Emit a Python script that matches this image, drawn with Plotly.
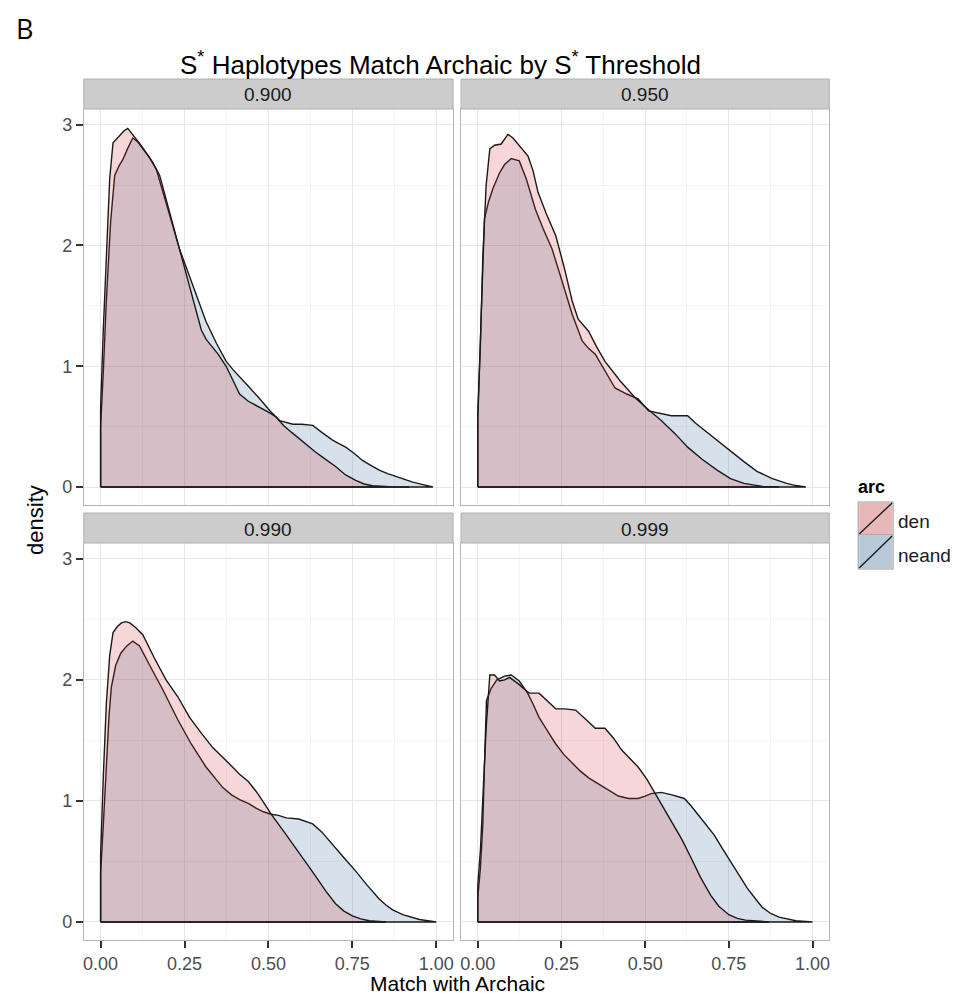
import plotly.graph_objects as go

# ---------------- data ----------------
panels = ["0.900", "0.950", "0.990", "0.999"]
groups = ["den", "neand"]

# threshold 0.900
x_900_den = [0, 0.008, 0.017, 0.027, 0.037, 0.047, 0.057, 0.07, 0.081, 0.093, 0.106, 0.12, 0.136, 0.155, 0.176, 0.205, 0.235, 0.255, 0.275, 0.29, 0.30, 0.315, 0.33, 0.35, 0.374, 0.395, 0.414, 0.44, 0.474, 0.50, 0.523, 0.545, 0.57, 0.595, 0.62, 0.64, 0.66, 0.68, 0.70, 0.73, 0.76, 0.785, 0.81, 0.86, 0.92]
y_900_den = [0.66, 1.3, 1.87, 2.55, 2.85, 2.88, 2.91, 2.95, 2.97, 2.93, 2.88, 2.83, 2.77, 2.69, 2.58, 2.28, 1.95, 1.75, 1.55, 1.40, 1.30, 1.22, 1.17, 1.10, 1.00, 0.88, 0.77, 0.71, 0.66, 0.62, 0.58, 0.51, 0.45, 0.39, 0.33, 0.29, 0.25, 0.21, 0.17, 0.10, 0.055, 0.025, 0.01, 0.003, 0]
x_900_neand = [0, 0.008, 0.017, 0.03, 0.042, 0.055, 0.066, 0.08, 0.096, 0.11, 0.126, 0.145, 0.166, 0.20, 0.235, 0.255, 0.275, 0.295, 0.314, 0.345, 0.374, 0.395, 0.414, 0.445, 0.474, 0.505, 0.533, 0.555, 0.573, 0.60, 0.632, 0.66, 0.69, 0.71, 0.73, 0.755, 0.78, 0.805, 0.83, 0.855, 0.88, 0.905, 0.93, 0.96, 0.99]
y_900_neand = [0.5, 0.95, 1.54, 2.2, 2.58, 2.66, 2.71, 2.80, 2.89, 2.86, 2.80, 2.73, 2.63, 2.30, 1.97, 1.82, 1.67, 1.52, 1.37, 1.19, 1.04, 0.97, 0.91, 0.82, 0.73, 0.63, 0.55, 0.53, 0.52, 0.52, 0.51, 0.45, 0.39, 0.36, 0.33, 0.28, 0.22, 0.18, 0.14, 0.11, 0.085, 0.06, 0.04, 0.02, 0]

# threshold 0.950
x_950_den = [0, 0.008, 0.015, 0.025, 0.036, 0.05, 0.07, 0.08, 0.09, 0.105, 0.124, 0.15, 0.165, 0.18, 0.205, 0.233, 0.258, 0.282, 0.30, 0.315, 0.331, 0.355, 0.38, 0.425, 0.47, 0.51, 0.548, 0.59, 0.627, 0.67, 0.715, 0.755, 0.795, 0.85, 0.90]
y_950_den = [0.6, 1.2, 1.9, 2.5, 2.80, 2.83, 2.84, 2.88, 2.92, 2.89, 2.83, 2.74, 2.62, 2.44, 2.26, 2.08, 1.82, 1.54, 1.39, 1.34, 1.29, 1.16, 1.04, 0.88, 0.74, 0.64, 0.55, 0.44, 0.33, 0.23, 0.14, 0.07, 0.03, 0.005, 0]
x_950_neand = [0, 0.01, 0.02, 0.032, 0.045, 0.065, 0.08, 0.10, 0.124, 0.145, 0.172, 0.195, 0.222, 0.25, 0.282, 0.312, 0.33, 0.351, 0.38, 0.41, 0.445, 0.479, 0.51, 0.545, 0.578, 0.60, 0.627, 0.65, 0.677, 0.715, 0.755, 0.795, 0.834, 0.88, 0.923, 0.95, 0.98]
y_950_neand = [0.55, 1.4, 2.22, 2.36, 2.47, 2.60, 2.67, 2.72, 2.70, 2.55, 2.30, 2.14, 1.97, 1.72, 1.43, 1.21, 1.15, 1.10, 0.96, 0.82, 0.77, 0.73, 0.63, 0.61, 0.59, 0.59, 0.59, 0.53, 0.47, 0.39, 0.30, 0.21, 0.13, 0.07, 0.03, 0.012, 0]

# threshold 0.990
x_990_den = [0, 0.008, 0.017, 0.027, 0.037, 0.05, 0.062, 0.075, 0.087, 0.105, 0.126, 0.16, 0.195, 0.23, 0.265, 0.30, 0.334, 0.375, 0.414, 0.44, 0.463, 0.485, 0.508, 0.545, 0.582, 0.63, 0.672, 0.70, 0.725, 0.75, 0.775, 0.80, 0.85]
y_990_den = [0.55, 1.2, 1.8, 2.2, 2.39, 2.44, 2.47, 2.48, 2.47, 2.43, 2.37, 2.18, 2.00, 1.86, 1.69, 1.56, 1.44, 1.33, 1.22, 1.16, 1.08, 0.99, 0.89, 0.75, 0.61, 0.42, 0.25, 0.15, 0.09, 0.05, 0.025, 0.01, 0]
x_990_neand = [0, 0.008, 0.017, 0.025, 0.032, 0.045, 0.06, 0.078, 0.096, 0.116, 0.15, 0.185, 0.23, 0.27, 0.314, 0.34, 0.364, 0.39, 0.414, 0.44, 0.463, 0.485, 0.508, 0.53, 0.553, 0.59, 0.632, 0.66, 0.69, 0.725, 0.76, 0.795, 0.83, 0.85, 0.87, 0.90, 0.95, 1.0]
y_990_neand = [0.4, 0.8, 1.3, 1.7, 1.94, 2.12, 2.22, 2.28, 2.32, 2.28, 2.10, 1.92, 1.67, 1.47, 1.28, 1.19, 1.11, 1.05, 1.01, 0.98, 0.94, 0.91, 0.89, 0.88, 0.86, 0.85, 0.81, 0.74, 0.64, 0.53, 0.42, 0.30, 0.19, 0.14, 0.10, 0.06, 0.02, 0]

# threshold 0.999
x_999_den = [0, 0.008, 0.015, 0.025, 0.036, 0.05, 0.065, 0.08, 0.095, 0.11, 0.124, 0.14, 0.154, 0.183, 0.21, 0.233, 0.262, 0.292, 0.32, 0.351, 0.38, 0.405, 0.43, 0.455, 0.479, 0.505, 0.528, 0.555, 0.578, 0.61, 0.637, 0.665, 0.696, 0.72, 0.75, 0.775, 0.80, 0.87]
y_999_den = [0.3, 0.6, 1.0, 1.6, 2.04, 2.04, 1.99, 2.0, 2.02, 1.99, 1.96, 1.92, 1.89, 1.89, 1.82, 1.76, 1.76, 1.75, 1.68, 1.60, 1.60, 1.52, 1.42, 1.35, 1.28, 1.18, 1.07, 0.95, 0.83, 0.68, 0.53, 0.37, 0.22, 0.13, 0.06, 0.03, 0.015, 0]
x_999_neand = [0, 0.008, 0.015, 0.02, 0.026, 0.04, 0.057, 0.08, 0.10, 0.124, 0.149, 0.165, 0.183, 0.21, 0.233, 0.258, 0.282, 0.305, 0.331, 0.355, 0.38, 0.40, 0.42, 0.45, 0.479, 0.50, 0.518, 0.548, 0.58, 0.617, 0.637, 0.657, 0.68, 0.706, 0.73, 0.755, 0.78, 0.805, 0.83, 0.85, 0.875, 0.90, 0.95, 1.0]
y_999_neand = [0.2, 0.45, 0.8, 1.3, 1.83, 1.93, 2.00, 2.03, 2.04, 1.99, 1.89, 1.80, 1.69, 1.57, 1.47, 1.38, 1.31, 1.25, 1.19, 1.15, 1.11, 1.07, 1.04, 1.02, 1.02, 1.04, 1.06, 1.07, 1.05, 1.02, 0.96, 0.89, 0.81, 0.72, 0.61, 0.50, 0.39, 0.28, 0.19, 0.12, 0.07, 0.04, 0.01, 0]

series = {
    "0.900": {"den": (x_900_den, y_900_den), "neand": (x_900_neand, y_900_neand)},
    "0.950": {"den": (x_950_den, y_950_den), "neand": (x_950_neand, y_950_neand)},
    "0.990": {"den": (x_990_den, y_990_den), "neand": (x_990_neand, y_990_neand)},
    "0.999": {"den": (x_999_den, y_999_den), "neand": (x_999_neand, y_999_neand)},
}

x_tickvals = [0, 0.25, 0.5, 0.75, 1.0]
x_ticktext = ["0.00", "0.25", "0.50", "0.75", "1.00"]
y_tickvals = [0, 1, 2, 3]
y_ticktext = ["0", "1", "2", "3"]

# ---------------- styling ----------------
W, H = 957, 997
FONT = "Liberation Sans, Arial, Helvetica, sans-serif"
fills = {"den": "rgba(210,50,50,0.2)", "neand": "rgba(50,105,160,0.2)"}
draw_order = ["neand", "den"]


def fx(px):
    return px / W


def fy(py):
    return 1 - py / H


# panel pixel boxes: (left, right, top, bottom)
boxes = [(83, 453, 109, 505), (461, 830, 109, 505), (83, 453, 543, 940), (461, 830, 543, 940)]
strips = [(79, 109), (79, 109), (513, 543), (513, 543)]

fig = go.Figure()

for i, p in enumerate(panels):
    ax = "" if i == 0 else str(i + 1)
    for g in draw_order:
        xs, ys = series[p][g]
        px = [xs[0]] + list(xs) + [xs[-1], xs[0]]
        py = [0] + list(ys) + [0, 0]
        fig.add_trace(go.Scatter(
            x=px, y=py, mode="lines", fill="toself", fillcolor=fills[g],
            line=dict(color="#1a1a1a", width=1.4), name=g, showlegend=False,
            xaxis="x" + ax, yaxis="y" + ax, hoverinfo="skip"))

    l, r, t, b = boxes[i]
    bottom_row = i >= 2
    left_col = i % 2 == 0
    xa = dict(
        domain=[fx(l), fx(r)], range=[-0.05, 1.05], anchor="y" + ax,
        tickvals=x_tickvals, ticktext=x_ticktext,
        showticklabels=bottom_row, ticks="outside" if bottom_row else "",
        ticklen=7, tickwidth=1.5, tickcolor="#333333",
        tickfont=dict(family=FONT, size=18, color="#4d4d4d"),
        showgrid=True, gridcolor="#e6e6e6", gridwidth=1,
        minor=dict(tickvals=[0.125, 0.375, 0.625, 0.875], showgrid=True, gridcolor="#f3f3f3", gridwidth=1),
        zeroline=False, showline=True, mirror=True, linecolor="#b5b5b5", linewidth=1,
        fixedrange=True,
    )
    ya = dict(
        domain=[fy(b), fy(t)], range=[-0.149, 3.13], anchor="x" + ax,
        tickvals=y_tickvals, ticktext=y_ticktext,
        showticklabels=left_col, ticks="outside" if left_col else "",
        ticklen=7, tickwidth=1.5, tickcolor="#333333",
        tickfont=dict(family=FONT, size=18, color="#4d4d4d"),
        showgrid=True, gridcolor="#e6e6e6", gridwidth=1,
        minor=dict(tickvals=[0.5, 1.5, 2.5], showgrid=True, gridcolor="#f3f3f3", gridwidth=1),
        zeroline=False, showline=True, mirror=True, linecolor="#b5b5b5", linewidth=1,
        fixedrange=True,
    )
    fig.layout["xaxis" + ax] = xa
    fig.layout["yaxis" + ax] = ya

shapes = []
annotations = []
for i, p in enumerate(panels):
    l, r, _, _ = boxes[i]
    st, sb = strips[i]
    shapes.append(dict(type="rect", xref="paper", yref="paper", x0=fx(l), x1=fx(r), y0=fy(sb), y1=fy(st),
                       fillcolor="#cccccc", line=dict(color="#b0b0b0", width=1), layer="above"))
    annotations.append(dict(text=p, xref="paper", yref="paper", x=fx((l + r) / 2), y=fy((st + sb) / 2 + 1),
                            showarrow=False, xanchor="center", yanchor="middle",
                            font=dict(family=FONT, size=19, color="#1a1a1a")))

# title, panel letter, axis titles
annotations.append(dict(text="S<sup>*</sup> Haplotypes Match Archaic by S<sup>*</sup> Threshold",
                        xref="paper", yref="paper", x=fx(440), y=fy(63), showarrow=False,
                        xanchor="center", yanchor="middle", font=dict(family=FONT, size=26, color="#000000")))
annotations.append(dict(text="B", xref="paper", yref="paper", x=fx(13), y=fy(28), showarrow=False,
                        xanchor="left", yanchor="middle", font=dict(family="Open Sans, sans-serif", size=27, color="#000000")))
annotations.append(dict(text="Match with Archaic", xref="paper", yref="paper", x=fx(457), y=fy(983), showarrow=False,
                        xanchor="center", yanchor="middle", font=dict(family=FONT, size=21, color="#000000")))
annotations.append(dict(text="density", xref="paper", yref="paper", x=fx(34), y=fy(520), showarrow=False,
                        textangle=-90, xanchor="center", yanchor="middle", font=dict(family=FONT, size=22, color="#000000")))

# legend (drawn by hand, ggplot style)
annotations.append(dict(text="<b>arc</b>", xref="paper", yref="paper", x=fx(857), y=fy(487), showarrow=False,
                        xanchor="left", yanchor="middle", font=dict(family=FONT, size=18, color="#000000")))
key_rows = [(502, 535), (535, 569)]
for g, (kt, kb) in zip(groups, key_rows):
    shapes.append(dict(type="rect", xref="paper", yref="paper", x0=fx(859), x1=fx(894), y0=fy(kb), y1=fy(kt),
                       fillcolor="#f2f2f2", line=dict(color="#999999", width=1)))
    shapes.append(dict(type="rect", xref="paper", yref="paper", x0=fx(860), x1=fx(893), y0=fy(kb - 1), y1=fy(kt + 1),
                       fillcolor=fills[g].replace("0.2)", "0.3)"), line=dict(width=0)))
    shapes.append(dict(type="line", xref="paper", yref="paper", x0=fx(860), x1=fx(893), y0=fy(kb - 1), y1=fy(kt + 1),
                       line=dict(color="#1a1a1a", width=1.4)))
    annotations.append(dict(text=g, xref="paper", yref="paper", x=fx(897), y=fy((kt + kb) / 2 + 3), showarrow=False,
                            xanchor="left", yanchor="middle", font=dict(family=FONT, size=19, color="#1a1a1a")))

fig.update_layout(
    width=W, height=H, margin=dict(l=0, r=0, t=0, b=0),
    paper_bgcolor="white", plot_bgcolor="white",
    shapes=shapes, annotations=annotations, showlegend=False,
    font=dict(family=FONT),
)

fig.write_html("out.html")
